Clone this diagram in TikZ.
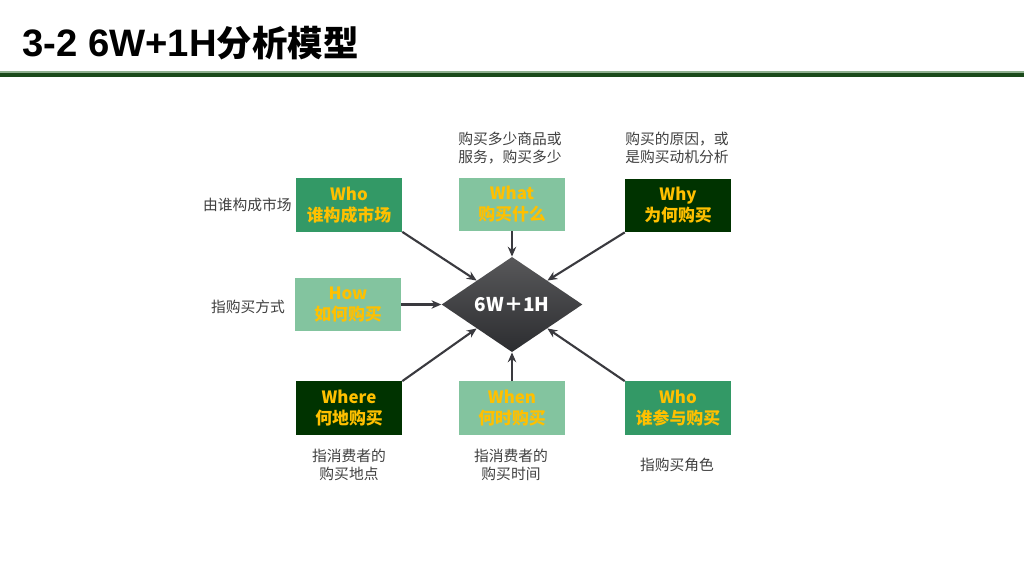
\documentclass[tikz,border=0pt]{standalone}
\usepackage{fontspec}
\setmainfont{Liberation Sans}
\newfontfamily\cjk{Noto Sans CJK SC}
\newfontfamily\lat{Liberation Sans}
\usetikzlibrary{arrows.meta,shapes.geometric}
\definecolor{gmid}{HTML}{339966}
\definecolor{glight}{HTML}{83C49F}
\definecolor{gdark}{HTML}{003300}
\definecolor{ylw}{HTML}{FFC000}
\definecolor{txtgray}{HTML}{404040}
\definecolor{arr}{HTML}{3A3A3F}
\begin{document}
\begin{tikzpicture}[x=0.025cm,y=-0.025cm,
  box/.style={rectangle,minimum width=2.65cm,minimum height=1.33cm,inner sep=0pt,align=center,
    text=ylw,font=\cjk\bfseries\fontsize{12}{15}\selectfont},
  desc/.style={align=center,text=txtgray,inner sep=0pt,font=\cjk\fontsize{10.5}{12.3}\selectfont},
  link/.style={draw=arr,line width=1.5pt,-{Stealth[length=7pt,width=6pt]}}]
\useasboundingbox (0,0) rectangle (1024,576);
\fill[white] (0,0) rectangle (1024,576);
% title
\node[anchor=base west,inner sep=0pt] (title) at (22,57)
  {\lat\bfseries\fontsize{27.2}{30}\selectfont 3-2 6W+1H\cjk\fontsize{25.2}{30}\selectfont 分析模型};
\fill[color={rgb,255:red,143;green,176;blue,143}] (0,71.5) rectangle (1024,73.5);
\fill[color={rgb,255:red,26;green,74;blue,26}] (0,73.5) rectangle (1024,77.5);
% center diamond
\node[diamond,minimum width=3.52cm,minimum height=2.38cm,inner sep=0pt,
  top color={rgb,255:red,88;green,88;blue,90},bottom color={rgb,255:red,44;green,45;blue,48},
  text=white,font=\cjk\bfseries\fontsize{13.5}{16}\selectfont] (dia) at (512,304.5) {6W＋1H};
% boxes
\node[box,fill=gmid] (who1) at (349,205) {Who\\谁构成市场};
\node[box,fill=glight] (what) at (512,204.5) {What\\购买什么};
\node[box,fill=gdark] (why) at (678,205.5) {Why\\为何购买};
\node[box,fill=glight] (how) at (348,304.5) {How\\如何购买};
\node[box,fill=gdark] (where) at (349,408) {Where\\何地购买};
\node[box,fill=glight] (when) at (512,408) {When\\何时购买};
\node[box,fill=gmid] (who2) at (678,408) {Who\\谁参与购买};
% descriptions
\node[desc,anchor=east] (d1) at (292,205) {由谁构成市场};
\node[desc] (d2) at (248,307) {指购买方式};
\node[desc] (d3) at (510,148) {购买多少商品或\\服务，购买多少};
\node[desc] (d4) at (677,148) {购买的原因，或\\是购买动机分析};
\node[desc] (d5) at (349,465) {指消费者的\\购买地点};
\node[desc] (d6) at (511,465) {指消费者的\\购买时间};
\node[desc] (d7) at (677,465) {指购买角色};
% connectors
\draw[link] (who1.south east) -- (dia.north west);
\draw[link] (what.south) -- (dia.north);
\draw[link] (why.south west) -- (dia.north east);
\draw[link] (how.east) -- (dia.west);
\draw[link] (where.north east) -- (dia.south west);
\draw[link] (when.north) -- (dia.south);
\draw[link] (who2.north west) -- (dia.south east);
\end{tikzpicture}
\end{document}
